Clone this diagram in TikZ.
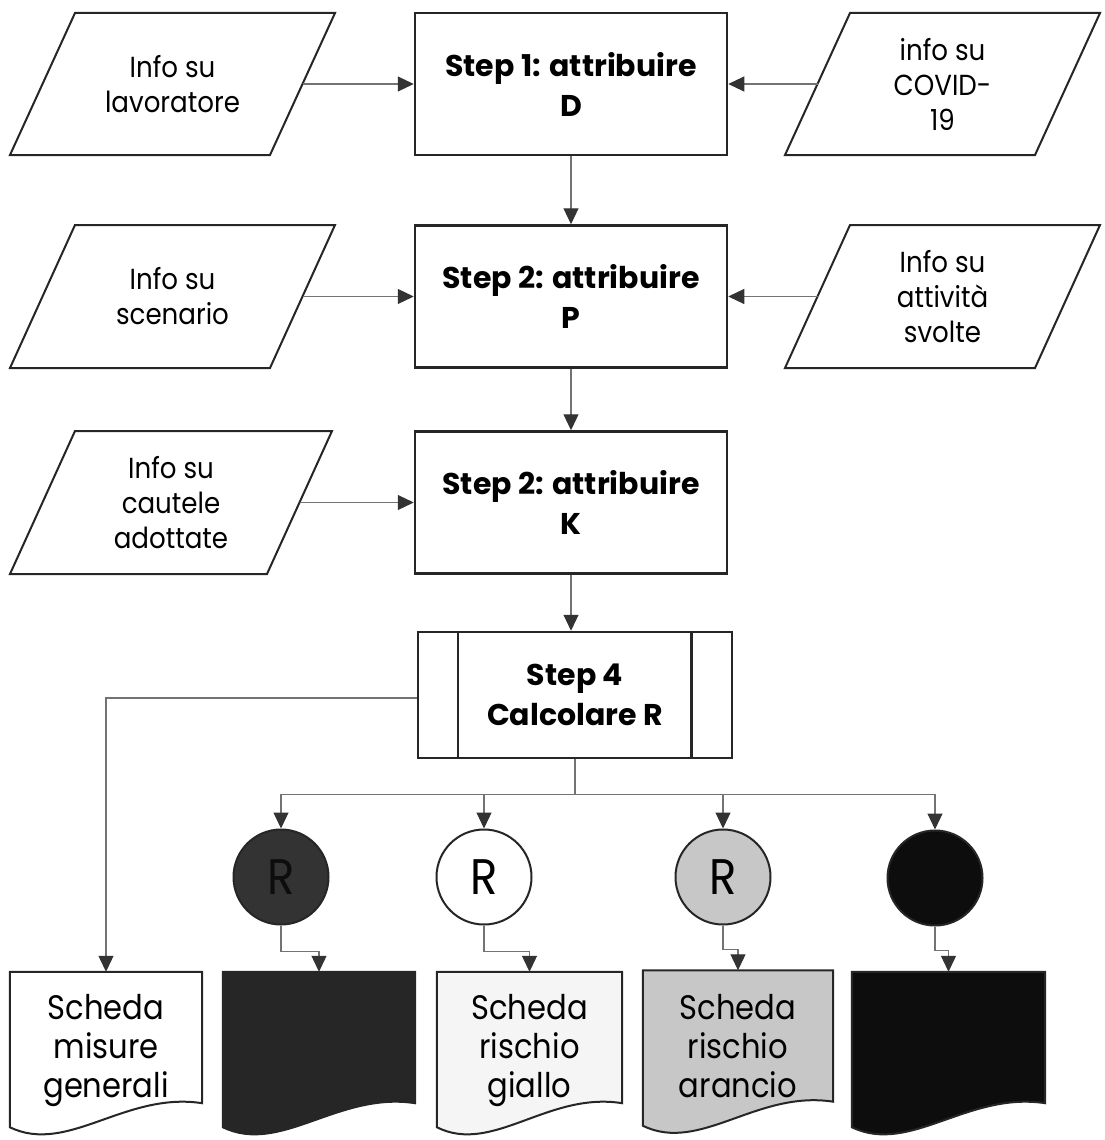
\documentclass[tikz,border=0pt]{standalone}
\usepackage{fontspec}
\setmainfont{Poppins}
\newfontfamily\cg[FakeStretch=0.9]{Poppins}
\usetikzlibrary{arrows.meta,calc}
\definecolor{lnk}{gray}{0.45}
\newcommand\docoutline[2]{%
  \draw[docline, fill=#2] (#1.north west) -- (#1.north east) -- ([yshift=24pt]#1.south east)
    .. controls ($(#1.south west)!0.6!(#1.south east)+(0pt,36pt)$)
       and ($(#1.south west)!0.3!(#1.south east)+(0pt,-28pt)$) ..
    (#1.south west) -- cycle;}
% #1 name, #2 left x (bottom), #3 right x (top), #4 top y, #5 bottom y
\newcommand\paral[5]{%
  \draw[paraline] (#2,#5) -- ({#2+65},#4) -- (#3,#4) -- ({#3-65},#5) -- cycle;
  \coordinate (#1-e) at ({#3-32.5},{(#4+#5)/2});
  \coordinate (#1-w) at ({#2+32.5},{(#4+#5)/2});
  \coordinate (#1-c) at ({(#2+#3)/2},{(#4+#5)/2});}
\begin{document}
\begin{tikzpicture}[x=1pt,y=-1pt,
  paraline/.style={draw=black!85, line width=2pt},
  ptext/.style={align=center, font=\cg\fontsize{29}{35}\selectfont, inner sep=0pt},
  stepbox/.style={draw=black!85, line width=2.5pt, minimum width=312pt,
    minimum height=142pt, align=center, font=\fontsize{30}{40}\selectfont\bfseries},
  rnode/.style={circle, draw=black!85, line width=2pt, minimum size=95pt,
    inner sep=0pt, font=\cg\fontsize{50}{50}\selectfont},
  docbox/.style={minimum height=155pt, align=center, inner sep=0pt},
  dtext/.style={align=center, inner sep=0pt, font=\cg\fontsize{34}{39}\selectfont},
  docline/.style={draw=black!85, line width=2pt},
  arr/.style={draw=lnk, line width=1.1pt,
    -{Triangle[length=16pt,width=15pt,color=black!80]}},
  lin/.style={draw=lnk, line width=1.1pt}
]
\useasboundingbox (0,0) rectangle (1105,1140);

% row 1
\paral{p1}{10}{335}{13}{155}
\node[ptext] (p1t) at (p1-c) {Info su\\lavoratore};
\node[stepbox] (b1) at (571,84) {Step 1: attribuire\\D};
\paral{p2}{785}{1100}{13}{155}
\node[ptext] (p2t) at (p2-c) {info su\\COVID-\\19};

% row 2
\paral{p3}{10}{335}{225}{368}
\node[ptext] (p3t) at (p3-c) {Info su\\scenario};
\node[stepbox] (b2) at (571,296.5) {Step 2: attribuire\\P};
\paral{p4}{785}{1100}{225}{368}
\node[ptext] (p4t) at (p4-c) {Info su\\attività\\svolte};

% row 3
\paral{p5}{10}{332}{431}{574}
\node[ptext] (p5t) at (p5-c) {Info su\\cautele\\adottate};
\node[stepbox] (b3) at (571,502.5) {Step 2: attribuire\\K};

% step 4
\node[stepbox, minimum width=314pt, minimum height=126pt] (b4) at (575,695) {Step 4\\Calcolare R};
\draw[line width=2.5pt, draw=black!85] ([xshift=41pt]b4.north west) -- ([xshift=41pt]b4.south west);
\draw[line width=2.5pt, draw=black!85] ([xshift=-42pt]b4.north east) -- ([xshift=-42pt]b4.south east);

% circles
\node[rnode, fill=black!80, text=black!95] (c1) at (281,877) {R};
\node[rnode, fill=white] (c2) at (484,877) {R};
\node[rnode, fill=black!22] (c3) at (723,877) {R};
\node[rnode, fill=black!95] (c4) at (935,878) {};

% documents
\node[docbox, minimum width=192pt] (d1) at (106,1049.5) {};
\node[docbox, minimum width=192pt] (d2) at (319,1049.5) {};
\node[docbox, minimum width=185pt] (d3) at (529.5,1049.5) {};
\node[docbox, minimum width=190pt] (d4) at (738,1048) {};
\node[docbox, minimum width=193pt] (d5) at (948.5,1049.5) {};
\docoutline{d1}{white}
\docoutline{d2}{black!85}
\docoutline{d3}{black!4}
\docoutline{d4}{black!22}
\docoutline{d5}{black!95}
\node[dtext] (d1t) at (106,1050) {Scheda\\misure\\generali};
\node[dtext] (d3t) at (529.5,1050) {Scheda\\rischio\\giallo};
\node[dtext] (d4t) at (738,1046) {Scheda\\rischio\\arancio};

% connectors
\draw[arr] (p1-e) -- (b1.west);
\draw[arr] (p2-w) -- (b1.east);
\draw[arr] (p3-e) -- (b2.west);
\draw[arr] (p4-w) -- (b2.east);
\draw[arr] (p5-e) -- (b3.west);
\draw[arr] (b1.south) -- (b2.north);
\draw[arr] (b2.south) -- (b3.north);
\draw[arr] (b3.south) -- (b3.south |- b4.north);
\draw[arr] ([yshift=-3pt]b4.west) -| (d1.north);
\coordinate (split) at ($(b4.south)+(0pt,-35pt)$);
\draw[lin] (b4.south) -- (split);
\draw[arr] (split) -| (c1.north);
\draw[arr] (split) -| (c2.north);
\draw[arr] (split) -| (c3.north);
\draw[arr] (split) -| (c4.north);
\draw[arr] (c1.south) -- ++(0,26) -| (d2.north);
\draw[arr] (c2.south) -- ++(0,26) -| (d3.north);
\draw[arr] (c3.south) -- ++(0,24) -| (d4.north);
\draw[arr] (c4.south) -- ++(0,24) -| (d5.north);
\end{tikzpicture}
\end{document}
